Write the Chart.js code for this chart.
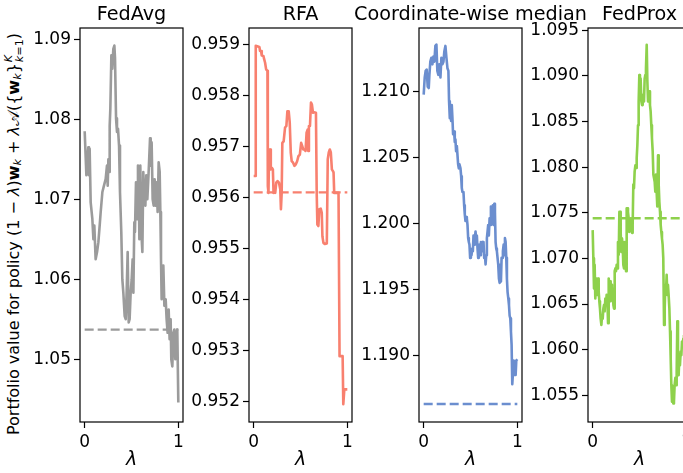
<!DOCTYPE html>
<html><head><meta charset="utf-8">
<script src="https://cdn.jsdelivr.net/npm/chart.js@4.4.1/dist/chart.umd.min.js"></script>
<style>
html,body{margin:0;padding:0;background:#fff;width:683px;height:473px;overflow:hidden;}
body{position:relative;font-family:'DejaVu Sans';}
canvas{position:absolute;top:0;}
#ylab{position:absolute;left:14px;top:234px;transform:translate(-50%,-50%) rotate(-90deg);white-space:nowrap;font-size:16px;color:#000;font-family:'DejaVu Sans';}
#ylab i{font-style:oblique;}
.ss{display:inline-flex;flex-direction:column;vertical-align:middle;font-size:0.7em;line-height:1.0;margin-left:1px;}
sub{font-size:0.7em;vertical-align:-0.25em;}
</style></head><body>
<div id="ylab">Portfolio value for policy (1 − <i>λ</i>)<b>w</b><sub><i>k</i></sub> + <i>λ</i>𝒜({<b>w</b><sub><i>k</i></sub>}<span class="ss"><span><i>K</i></span><span><i>k</i>=1</span></span>)</div>
<script>
const panelTitles = ['FedAvg', 'RFA', 'Coordinate-wise median', 'FedProx'];
const xTickValues = [0, 1];

const fedAvgLambda = [0,0.018,0.039,0.046,0.053,0.064,0.082,0.093,0.103,0.117,0.132,0.146,0.160,0.171,0.189,0.206,0.224,0.238,0.246,0.253,0.260,0.267,0.274,0.285,0.295,0.306,0.317,0.324,0.335,0.345,0.356,0.367,0.377,0.391,0.402,0.413,0.427,0.438,0.448,0.459,0.470,0.480,0.491,0.502,0.512,0.520,0.530,0.537,0.548,0.559,0.569,0.577,0.584,0.594,0.605,0.616,0.626,0.637,0.648,0.658,0.669,0.683,0.698,0.705,0.715,0.726,0.737,0.747,0.758,0.769,0.779,0.790,0.801,0.808,0.815,0.822,0.829,0.840,0.851,0.865,0.875,0.886,0.897,0.907,0.918,0.925,0.936,0.947,0.957,0.968,0.979,0.989,1.000];
const fedAvgValue = [1.0785,1.0730,1.0765,1.0730,1.0763,1.0696,1.0675,1.0650,1.0667,1.0625,1.0634,1.0646,1.0667,1.0684,1.0709,1.0717,1.0725,1.0742,1.0717,1.0750,1.0734,1.0792,1.0813,1.0880,1.0863,1.0888,1.0892,1.0876,1.0801,1.0784,1.0788,1.0767,1.0709,1.0659,1.0600,1.0583,1.0554,1.0550,1.0583,1.0634,1.0546,1.0550,1.0583,1.0600,1.0625,1.0583,1.0671,1.0659,1.0721,1.0675,1.0742,1.0725,1.0650,1.0742,1.0659,1.0634,1.0734,1.0700,1.0692,1.0730,1.0700,1.0734,1.0776,1.0742,1.0771,1.0700,1.0692,1.0725,1.0692,1.0721,1.0684,1.0746,1.0734,1.0684,1.0625,1.0575,1.0600,1.0617,1.0567,1.0575,1.0550,1.0533,1.0562,1.0525,1.0550,1.0500,1.0491,1.0533,1.0537,1.0500,1.0533,1.0537,1.0446];
const fedAvgBaseline = 1.0537;
const fedAvgTicks = [1.05, 1.06, 1.07, 1.08, 1.09];

const rfaLambda = [0,0.018,0.022,0.061,0.068,0.079,0.086,0.104,0.112,0.122,0.133,0.147,0.151,0.158,0.165,0.176,0.183,0.194,0.205,0.212,0.219,0.230,0.241,0.255,0.270,0.284,0.291,0.299,0.306,0.320,0.335,0.349,0.360,0.374,0.385,0.396,0.406,0.421,0.435,0.450,0.464,0.478,0.493,0.507,0.518,0.529,0.543,0.554,0.565,0.576,0.583,0.590,0.601,0.612,0.622,0.633,0.644,0.665,0.673,0.680,0.691,0.701,0.716,0.727,0.734,0.745,0.759,0.781,0.791,0.802,0.813,0.824,0.835,0.845,0.853,0.860,0.906,0.917,0.950,0.957,0.968,1.000];
const rfaValue = [0.95642,0.95642,0.95897,0.95895,0.95887,0.95887,0.95878,0.95877,0.95871,0.95864,0.95851,0.95848,0.95622,0.95609,0.95694,0.95694,0.95655,0.95658,0.95655,0.95609,0.95616,0.95609,0.95629,0.95632,0.95629,0.95616,0.95577,0.95609,0.95707,0.95710,0.95737,0.95740,0.95769,0.95769,0.95747,0.95688,0.95671,0.95668,0.95662,0.95665,0.95671,0.95681,0.95684,0.95707,0.95701,0.95694,0.95694,0.95691,0.95727,0.95733,0.95691,0.95740,0.95740,0.95786,0.95782,0.95766,0.95767,0.95766,0.95609,0.95547,0.95544,0.95577,0.95578,0.95570,0.95524,0.95511,0.95509,0.95510,0.95675,0.95688,0.95694,0.95688,0.95655,0.95652,0.95649,0.95609,0.95609,0.95289,0.95289,0.95195,0.95224,0.95224];
const rfaBaseline = 0.9561;
const rfaTicks = [0.952, 0.953, 0.954, 0.955, 0.956, 0.957, 0.958, 0.959];

const cwmLambda = [0,0.011,0.021,0.032,0.043,0.054,0.061,0.071,0.082,0.093,0.104,0.114,0.125,0.136,0.146,0.157,0.168,0.179,0.189,0.200,0.211,0.221,0.232,0.243,0.254,0.264,0.271,0.279,0.286,0.293,0.300,0.307,0.314,0.325,0.332,0.339,0.346,0.354,0.361,0.368,0.375,0.382,0.393,0.400,0.407,0.414,0.425,0.432,0.439,0.446,0.454,0.461,0.468,0.475,0.482,0.489,0.496,0.504,0.511,0.518,0.525,0.532,0.539,0.546,0.554,0.561,0.568,0.575,0.582,0.589,0.596,0.604,0.611,0.618,0.625,0.632,0.639,0.646,0.654,0.661,0.668,0.675,0.682,0.689,0.696,0.704,0.711,0.718,0.725,0.732,0.739,0.746,0.754,0.761,0.768,0.775,0.782,0.789,0.796,0.804,0.811,0.818,0.825,0.832,0.839,0.846,0.854,0.861,0.868,0.875,0.882,0.889,0.896,0.904,0.911,0.918,0.925,0.932,0.939,0.946,0.954,0.961,0.968,0.975,0.982,0.989,1.000];
const cwmValue = [1.2098,1.2111,1.2116,1.2117,1.2104,1.2103,1.2113,1.2123,1.2126,1.2121,1.2127,1.2123,1.2135,1.2136,1.2116,1.2113,1.2121,1.2111,1.2126,1.2121,1.2123,1.2131,1.2135,1.2126,1.2118,1.2116,1.2093,1.2080,1.2090,1.2078,1.2090,1.2080,1.2068,1.2070,1.2062,1.2064,1.2055,1.2059,1.2052,1.2045,1.2042,1.2045,1.2042,1.2036,1.2027,1.2024,1.2024,1.2014,1.2007,1.2002,1.2005,1.2004,1.1999,1.1989,1.1986,1.1984,1.1974,1.1976,1.1976,1.1981,1.1979,1.1991,1.1984,1.1989,1.1994,1.1986,1.1991,1.1981,1.1974,1.1979,1.1984,1.1976,1.1986,1.1981,1.1986,1.1979,1.1986,1.1974,1.1976,1.1969,1.1976,1.1989,1.1994,1.1999,1.1991,1.2004,1.1999,1.2013,1.2009,1.2004,1.2014,1.1999,1.2015,1.2009,1.1986,1.1981,1.1979,1.1974,1.1969,1.1958,1.1955,1.1969,1.1956,1.1974,1.1974,1.1979,1.1984,1.1976,1.1989,1.1986,1.1974,1.1958,1.1948,1.1943,1.1938,1.1930,1.1928,1.1918,1.1908,1.1878,1.1887,1.1896,1.1885,1.1895,1.1885,1.1896,1.1897];
const cwmBaseline = 1.1863;
const cwmTicks = [1.190, 1.195, 1.200, 1.205, 1.210];

const fedProxLambda = [0,0.007,0.014,0.021,0.028,0.036,0.043,0.050,0.057,0.064,0.071,0.078,0.085,0.093,0.100,0.107,0.114,0.121,0.128,0.135,0.142,0.149,0.157,0.164,0.171,0.178,0.185,0.192,0.199,0.206,0.214,0.221,0.228,0.235,0.242,0.249,0.256,0.263,0.270,0.278,0.285,0.292,0.299,0.306,0.313,0.320,0.327,0.335,0.342,0.349,0.356,0.363,0.370,0.377,0.384,0.391,0.399,0.406,0.413,0.420,0.427,0.434,0.441,0.448,0.456,0.463,0.470,0.477,0.484,0.491,0.498,0.505,0.512,0.520,0.527,0.534,0.541,0.548,0.555,0.562,0.569,0.577,0.584,0.591,0.598,0.605,0.612,0.619,0.626,0.633,0.641,0.648,0.655,0.662,0.669,0.676,0.683,0.690,0.698,0.705,0.712,0.719,0.726,0.733,0.740,0.747,0.754,0.762,0.769,0.776,0.783,0.790,0.797,0.804,0.811,0.819,0.826,0.833,0.840,0.847,0.854,0.861,0.868,0.875,0.883,0.890,0.897,0.904,0.911,0.918,0.925,0.932,0.940,0.947,0.954,0.961,0.968,0.975];
const fedProxValue = [1.0731,1.0700,1.0667,1.0693,1.0656,1.0678,1.0660,1.0664,1.0678,1.0664,1.0653,1.0645,1.0634,1.0627,1.0638,1.0634,1.0645,1.0649,1.0642,1.0656,1.0649,1.0660,1.0653,1.0629,1.0678,1.0671,1.0675,1.0653,1.0671,1.0664,1.0667,1.0649,1.0645,1.0686,1.0689,1.0686,1.0693,1.0689,1.0718,1.0704,1.0751,1.0751,1.0729,1.0707,1.0722,1.0715,1.0693,1.0689,1.0718,1.0700,1.0686,1.0755,1.0755,1.0751,1.0744,1.0729,1.0737,1.0744,1.0733,1.0728,1.0737,1.0781,1.0777,1.0795,1.0802,1.0799,1.0810,1.0824,1.0846,1.0872,1.0901,1.0883,1.0897,1.0872,1.0868,1.0879,1.0874,1.0872,1.0897,1.0901,1.0908,1.0934,1.0894,1.0872,1.0879,1.0883,1.0868,1.0861,1.0846,1.0832,1.0817,1.0792,1.0788,1.0784,1.0773,1.0792,1.0773,1.0757,1.0813,1.0781,1.0762,1.0751,1.0737,1.0729,1.0722,1.0715,1.0700,1.0627,1.0645,1.0671,1.0664,1.0682,1.0660,1.0671,1.0660,1.0645,1.0620,1.0591,1.0561,1.0543,1.0550,1.0541,1.0543,1.0561,1.0569,1.0561,1.0576,1.0631,1.0576,1.0572,1.0591,1.0583,1.0598,1.0594,1.0609,1.0605,1.0612,1.0616];
const fedProxBaseline = 1.0744;
const fedProxTicks = [1.055, 1.060, 1.065, 1.070, 1.075, 1.080, 1.085, 1.090, 1.095];

const AXIS_W = 76, PLOT_W = 103, RIGHT_PAD = 70, TOP_PAD = 28, XAXIS_H = 51;
const FONT = 'DejaVu Sans';

const panels = [
  {title: panelTitles[0], xs: fedAvgLambda, ys: fedAvgValue, base: fedAvgBaseline, color: '#9b9b9b', yMin: 1.04215, yMax: 1.09140, ticks: fedAvgTicks, dec: 2, left: 80},
  {title: panelTitles[1], xs: rfaLambda, ys: rfaValue, base: rfaBaseline, color: '#f8806f', yMin: 0.95160, yMax: 0.95932, ticks: rfaTicks, dec: 3, left: 249},
  {title: panelTitles[2], xs: cwmLambda, ys: cwmValue, base: cwmBaseline, color: '#6b8ecf', yMin: 1.18493, yMax: 1.21486, ticks: cwmTicks, dec: 3, left: 419},
  {title: panelTitles[3], xs: fedProxLambda, ys: fedProxValue, base: fedProxBaseline, color: '#8ed14c', yMin: 1.05207, yMax: 1.09525, ticks: fedProxTicks, dec: 3, left: 588}
];

const framePlugin = {
  id: 'frame',
  afterDraw(chart, args, opts) {
    const {ctx, chartArea: {left, top, right, bottom}} = chart;
    ctx.save();
    ctx.strokeStyle = '#000';
    ctx.lineWidth = 1.2;
    ctx.strokeRect(left, top, right - left, bottom - top);
    ctx.fillStyle = '#000';
    ctx.font = '19.2px ' + FONT;
    ctx.textAlign = 'center';
    ctx.textBaseline = 'alphabetic';
    ctx.fillText(opts.text, (left + right) / 2, 20);
    ctx.restore();
  }
};

panels.forEach((p) => {
  const cv = document.createElement('canvas');
  const W = AXIS_W + PLOT_W + RIGHT_PAD;
  cv.width = W; cv.height = 473;
  cv.style.left = (p.left - AXIS_W) + 'px';
  cv.style.width = W + 'px'; cv.style.height = '473px';
  document.body.appendChild(cv);
  const pts = [];
  const n = Math.min(p.xs.length, p.ys.length);
  for (let i = 0; i < n; i++) pts.push({x: p.xs[i], y: p.ys[i]});
  new Chart(cv, {
    type: 'line',
    data: {
      datasets: [
        {data: pts, borderColor: p.color, borderWidth: 2.6, pointRadius: 0, tension: 0, borderJoinStyle: 'round', borderCapStyle: 'butt'},
        {data: [{x: 0, y: p.base}, {x: 1, y: p.base}], borderColor: p.color, borderWidth: 2.4, pointRadius: 0, borderDash: [9, 4]}
      ]
    },
    options: {
      responsive: false, animation: false, devicePixelRatio: 1,
      layout: {padding: {left: 0, right: RIGHT_PAD, top: TOP_PAD, bottom: 0}},
      plugins: {legend: {display: false}, tooltip: {enabled: false}, frame: {text: p.title}},
      scales: {
        x: {
          type: 'linear', min: -0.05, max: 1.05,
          afterBuildTicks: (s) => { s.ticks = xTickValues.map(v => ({value: v})); },
          afterFit: (s) => { s.height = XAXIS_H; },
          grid: {display: true, drawOnChartArea: false, drawTicks: true, tickLength: 6, tickColor: '#000', tickWidth: 1.2},
          border: {display: false},
          ticks: {color: '#000', font: {family: FONT, size: 17}, padding: 4, maxRotation: 0, callback: (v) => String(v)},
          title: {display: true, text: 'λ', color: '#000', font: {family: FONT, size: 19, style: 'italic'}, padding: {top: 0, bottom: 2}}
        },
        y: {
          type: 'linear', min: p.yMin, max: p.yMax,
          afterBuildTicks: (s) => { s.ticks = p.ticks.map(v => ({value: v})); },
          afterFit: (s) => { s.width = AXIS_W; },
          grid: {display: true, drawOnChartArea: false, drawTicks: true, tickLength: 6, tickColor: '#000', tickWidth: 1.2},
          border: {display: false},
          ticks: {color: '#000', font: {family: FONT, size: 17}, padding: 3, callback: (v) => Number(v).toFixed(p.dec)}
        }
      }
    },
    plugins: [framePlugin]
  });
});
</script>
</body></html>
